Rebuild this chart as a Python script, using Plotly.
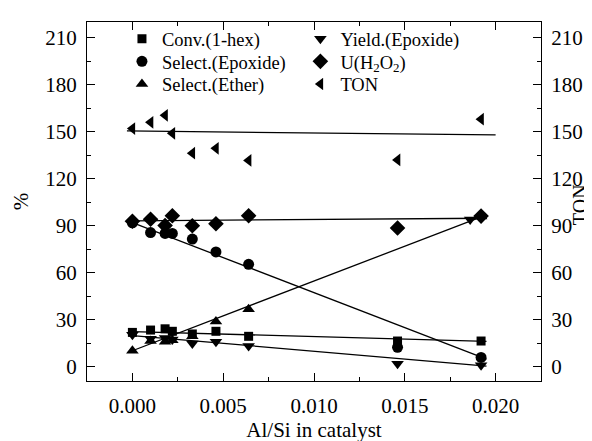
import plotly.graph_objects as go

# ---- data ----
al_si = [0.0, 0.0010, 0.0018, 0.0022, 0.0033, 0.0046, 0.0064, 0.0146, 0.0192]
conv_hex = [22.0, 23.5, 24.3, 22.7, 21.0, 22.7, 19.5, 16.5, 16.5]
sel_epox = [91.9, 85.7, 85.1, 85.1, 81.5, 73.3, 65.4, 12.5, 6.0]
sel_ether = [10.3, 16.5, 16.0, 17.0, 19.5, 28.9, 36.8, 89.5, 96.0]
yield_x = [0.0, 0.0010, 0.0018, 0.0022, 0.0033, 0.0046, 0.0064, 0.0146, 0.0186, 0.0192]
yield_epox = [20.5, 18.0, 18.5, 17.5, 15.0, 16.0, 13.4, 2.0, 94.0, 1.0]
u_h2o2 = [92.9, 94.2, 90.2, 96.4, 90.0, 91.3, 96.4, 88.6, 96.2]
ton = [152.0, 156.0, 160.5, 149.0, 136.3, 139.4, 131.7, 132.0, 158.0]

fit_x = [0.0, 0.0195]
fit_conv = [22.5, 16.3]
fit_epox = [92.0, 5.0]
fit_ether = [10.3, 97.0]
fit_yield = [20.0, 0.5]
fit_u = [93.2, 94.8]
fit_ton_x = [-0.0003, 0.0200]
fit_ton = [150.5, 148.0]

y_ticks = [0, 30, 60, 90, 120, 150, 180, 210]
x_ticks = [0.000, 0.005, 0.010, 0.015, 0.020]
x_ticklabels = ["0.000", "0.005", "0.010", "0.015", "0.020"]

FONT = "Liberation Serif"
fig = go.Figure()

line_style = dict(color="black", width=1.3)
for fy in [fit_conv, fit_epox, fit_ether, fit_yield, fit_u]:
    fig.add_trace(go.Scatter(x=fit_x, y=fy, mode="lines", line=line_style,
                             showlegend=False, hoverinfo="skip"))
fig.add_trace(go.Scatter(x=fit_ton_x, y=fit_ton, mode="lines", line=line_style,
                         showlegend=False, hoverinfo="skip", yaxis="y2"))

def mk(sym, size):
    return dict(symbol=sym, size=size, color="black", line=dict(width=0))

fig.add_trace(go.Scatter(x=al_si, y=conv_hex, mode="markers", name="Conv.(1-hex)",
                         marker=mk("square", 9), legend="legend"))
fig.add_trace(go.Scatter(x=yield_x, y=yield_epox, mode="markers", name="Yield.(Epoxide)",
                         marker=mk("triangle-down", 11), legend="legend2"))
fig.add_trace(go.Scatter(x=al_si, y=sel_epox, mode="markers", name="Select.(Epoxide)",
                         marker=mk("circle", 11), legend="legend3"))
fig.add_trace(go.Scatter(x=al_si, y=u_h2o2, mode="markers", name="U(H<sub>2</sub>O<sub>2</sub>)",
                         marker=mk("diamond", 12), legend="legend4"))
fig.add_trace(go.Scatter(x=al_si, y=sel_ether, mode="markers", name="Select.(Ether)",
                         marker=mk("triangle-up", 11), legend="legend5"))
fig.add_trace(go.Scatter(x=al_si, y=ton, mode="markers", name="TON",
                         marker=mk("triangle-left", 11), legend="legend6", yaxis="y2"))

axis_common = dict(showline=True, linecolor="black", linewidth=1.2, ticks="inside",
                   tickcolor="black", ticklen=8, tickwidth=1.2, showgrid=False,
                   zeroline=False, tickfont=dict(family=FONT, size=21, color="black"))

col_x = [0.077, 0.470]
row_y = [0.952, 0.889, 0.826]

def leg(cx, ry):
    return dict(x=cx, y=ry, xanchor="left", yanchor="middle", bgcolor="rgba(0,0,0,0)",
                font=dict(family=FONT, size=18.5), itemwidth=30, borderwidth=0)

fig.update_layout(
    width=592, height=441,
    margin=dict(l=79, r=59, t=13, b=58),
    paper_bgcolor="white", plot_bgcolor="white",
    font=dict(family=FONT, color="black"),
    xaxis=dict(range=[-0.0025, 0.0225], tickvals=x_ticks, ticktext=x_ticklabels,
               mirror="ticks", ticklabelstandoff=6,
               minor=dict(dtick=0.0025, tick0=0, ticks="inside", ticklen=4, tickcolor="black"),
               title=dict(text="Al/Si in catalyst", font=dict(family=FONT, size=21), standoff=4),
               **axis_common),
    yaxis=dict(range=[-9, 220], tickvals=y_ticks, ticklabelstandoff=5,
               minor=dict(dtick=15, tick0=0, ticks="inside", ticklen=4, tickcolor="black"),
               title=dict(text="%", font=dict(family=FONT, size=21), standoff=10),
               **axis_common),
    yaxis2=dict(range=[-9, 220], tickvals=y_ticks, overlaying="y", side="right",
                ticklabelstandoff=5,
                minor=dict(dtick=15, tick0=0, ticks="inside", ticklen=4, tickcolor="black"),
                **axis_common),
    annotations=[dict(text="TON", xref="paper", yref="paper", x=1.086, y=0.49,
                      xanchor="center", yanchor="middle", textangle=-90, showarrow=False,
                      font=dict(family=FONT, size=20, color="black"))],
    legend=leg(col_x[0], row_y[0]),
    legend2=leg(col_x[1], row_y[0]),
    legend3=leg(col_x[0], row_y[1]),
    legend4=leg(col_x[1], row_y[1]),
    legend5=leg(col_x[0], row_y[2]),
    legend6=leg(col_x[1], row_y[2]),
)

fig.write_html("out.html")
